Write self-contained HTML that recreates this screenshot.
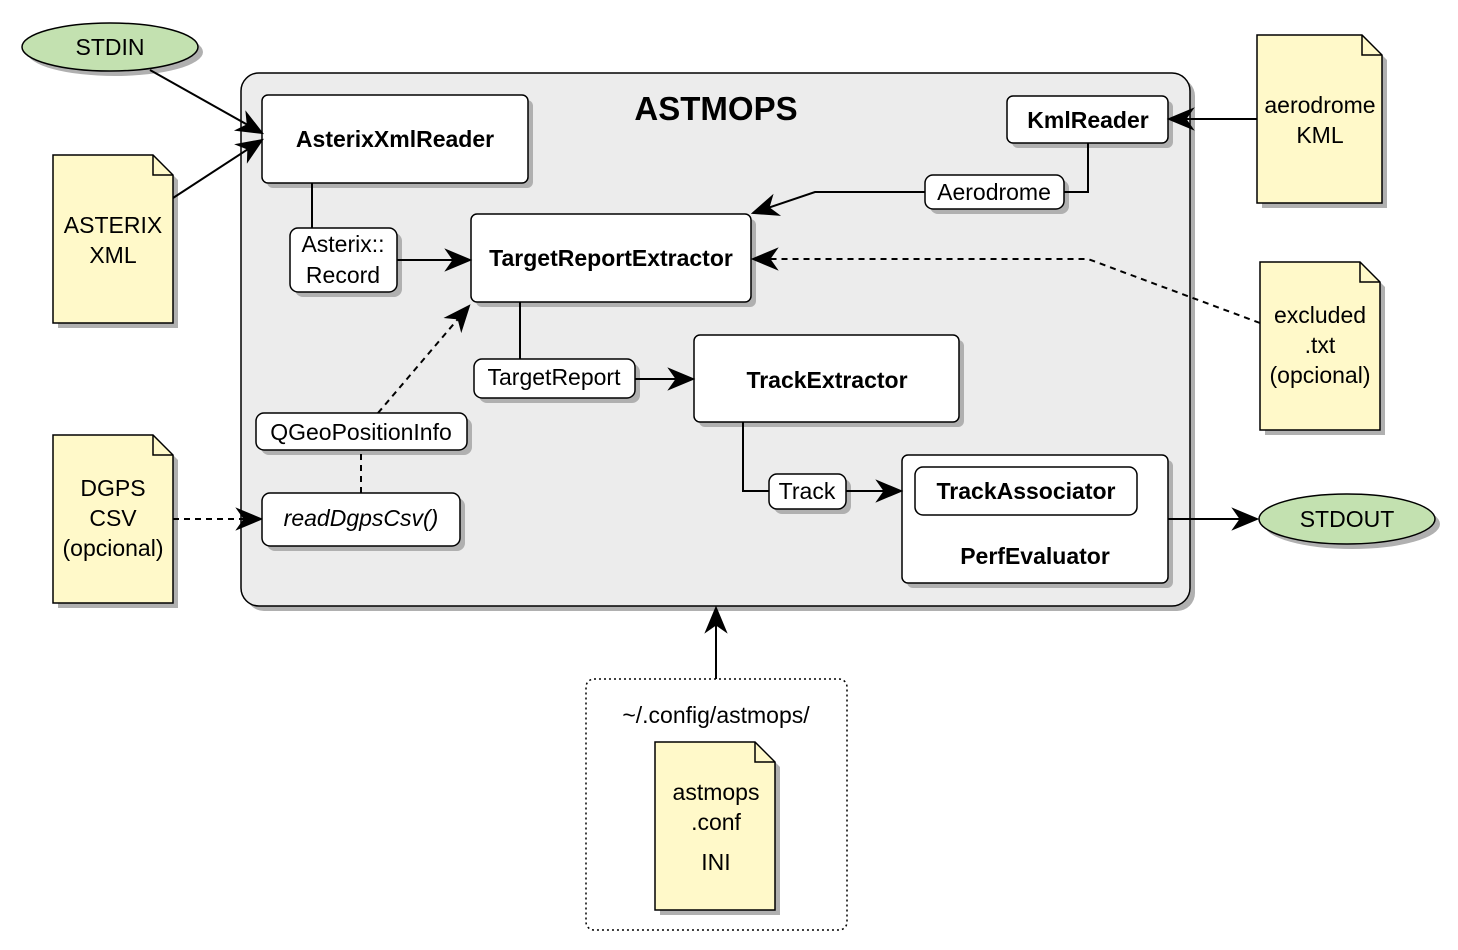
<!DOCTYPE html>
<html><head><meta charset="utf-8"><style>html,body{margin:0;padding:0;background:#fff}svg{display:block}text{font-family:"Liberation Sans",Arial,sans-serif;fill:#000}</style></head><body>
<svg width="1458" height="950" viewBox="0 0 1458 950" xmlns="http://www.w3.org/2000/svg" font-family="Liberation Sans, Arial, sans-serif">
<defs>
<marker id="a" viewBox="0 0 12 12" refX="11" refY="6" markerWidth="28" markerHeight="28" markerUnits="userSpaceOnUse" orient="auto"><path d="M0,1 L12,6 L0,11 L3.5,6 z" fill="#000"/></marker>
</defs>
<g fill="#b0b0b0" stroke="none">
<rect x="246" y="78" width="949" height="533" rx="18"/>
<ellipse cx="115" cy="52" rx="88" ry="24"/>
<ellipse cx="1352" cy="524" rx="88" ry="25"/>
<path d="M58,160 h100 l20,20 v148 h-120z"/>
<path d="M58,440 h100 l20,20 v148 h-120z"/>
<path d="M1262,40 h105 l20,20 v148 h-125z"/>
<path d="M1265,267 h100 l20,20 v148 h-120z"/>
<path d="M660,747 h100 l20,20 v148 h-120z"/>
</g>
<rect x="241" y="73" width="949" height="533" rx="18" fill="#ececec" stroke="#000" stroke-width="1.5"/>
<g fill="#b0b0b0">
<rect x="267" y="100" width="266" height="88" rx="6"/>
<rect x="1012" y="101" width="161" height="47" rx="6"/>
<rect x="476" y="219" width="280" height="88" rx="6"/>
<rect x="699" y="340" width="265" height="87" rx="6"/>
<rect x="907" y="460" width="266" height="128" rx="6"/>
<rect x="930" y="180" width="139" height="34" rx="8"/>
<rect x="295" y="233" width="107" height="64" rx="8"/>
<rect x="479" y="364" width="161" height="39" rx="8"/>
<rect x="261" y="418" width="211" height="37" rx="8"/>
<rect x="267" y="498" width="198" height="53" rx="8"/>
<rect x="774" y="479" width="77" height="35" rx="8"/>
<rect x="920" y="472" width="222" height="48" rx="8"/>
</g>
<g fill="#fff" stroke="#000" stroke-width="1.5">
<rect x="262" y="95" width="266" height="88" rx="6"/>
<rect x="1007" y="96" width="161" height="47" rx="6"/>
<rect x="471" y="214" width="280" height="88" rx="6"/>
<rect x="694" y="335" width="265" height="87" rx="6"/>
<rect x="902" y="455" width="266" height="128" rx="6"/>
<rect x="915" y="467" width="222" height="48" rx="8"/>
</g>
<g fill="none" stroke="#000" stroke-width="2">
<path d="M150,70 L262,133" marker-end="url(#a)"/>
<path d="M173,198 L262,140" marker-end="url(#a)"/>
<path d="M312,183 V228"/>
<path d="M397,260 H470" marker-end="url(#a)"/>
<path d="M1257,119 H1169" marker-end="url(#a)"/>
<path d="M1088,143 V192 H1064"/>
<path d="M925,192 H815 L753,213" marker-end="url(#a)"/>
<path d="M1260,323 L1088,259 H753" stroke-dasharray="6,5" marker-end="url(#a)"/>
<path d="M520,302 V359"/>
<path d="M635,379 H693" marker-end="url(#a)"/>
<path d="M361,493 V450" stroke-dasharray="6,5"/>
<path d="M378,413 L469,306" stroke-dasharray="6,5" marker-end="url(#a)"/>
<path d="M173,519 H261" stroke-dasharray="6,5" marker-end="url(#a)"/>
<path d="M743,422 V491 H769"/>
<path d="M846,491 H901" marker-end="url(#a)"/>
<path d="M1168,519 H1257" marker-end="url(#a)"/>
<path d="M716,679 V608" marker-end="url(#a)"/>
</g>
<g fill="#fff" stroke="#000" stroke-width="1.5">
<rect x="925" y="175" width="139" height="34" rx="8"/>
<rect x="290" y="228" width="107" height="64" rx="8"/>
<rect x="474" y="359" width="161" height="39" rx="8"/>
<rect x="256" y="413" width="211" height="37" rx="8"/>
<rect x="262" y="493" width="198" height="53" rx="8"/>
<rect x="769" y="474" width="77" height="35" rx="8"/>
</g>
<ellipse cx="110" cy="47" rx="88" ry="24" fill="#c3e1b0" stroke="#000" stroke-width="1.5"/>
<ellipse cx="1347" cy="519" rx="88" ry="25" fill="#c3e1b0" stroke="#000" stroke-width="1.5"/>
<g fill="#fff9c9" stroke="#000" stroke-width="1.5">
<path d="M53,155 h100 l20,20 v148 h-120z"/><path d="M153,155 v20 h20" fill="none"/>
<path d="M53,435 h100 l20,20 v148 h-120z"/><path d="M153,435 v20 h20" fill="none"/>
<path d="M1257,35 h105 l20,20 v148 h-125z"/><path d="M1362,35 v20 h20" fill="none"/>
<path d="M1260,262 h100 l20,20 v148 h-120z"/><path d="M1360,262 v20 h20" fill="none"/>
</g>
<rect x="586" y="679" width="261" height="251" rx="8" fill="#fff" stroke="#000" stroke-width="1.5" stroke-dasharray="2,3"/>
<path d="M660,747 h100 l20,20 v148 h-120z" fill="#b0b0b0"/>
<path d="M655,742 h100 l20,20 v148 h-120z" fill="#fff9c9" stroke="#000" stroke-width="1.5"/>
<path d="M755,742 v20 h20" fill="none" stroke="#000" stroke-width="1.5"/>
<g font-size="23" text-anchor="middle">
<text x="716" y="120" font-size="33" font-weight="bold">ASTMOPS</text>
<text x="110" y="55">STDIN</text>
<text x="1347" y="527">STDOUT</text>
<text x="395" y="147" font-weight="bold">AsterixXmlReader</text>
<text x="1088" y="128" font-weight="bold">KmlReader</text>
<text x="611" y="266" font-weight="bold">TargetReportExtractor</text>
<text x="827" y="388" font-weight="bold">TrackExtractor</text>
<text x="1026" y="499" font-weight="bold">TrackAssociator</text>
<text x="1035" y="564" font-weight="bold">PerfEvaluator</text>
<text x="994" y="200">Aerodrome</text>
<text x="343" y="252">Asterix::</text>
<text x="343" y="283">Record</text>
<text x="554" y="385">TargetReport</text>
<text x="361" y="440">QGeoPositionInfo</text>
<text x="361" y="526" font-style="italic">readDgpsCsv()</text>
<text x="807" y="499">Track</text>
<text x="113" y="233">ASTERIX</text>
<text x="113" y="263">XML</text>
<text x="113" y="496">DGPS</text>
<text x="113" y="526">CSV</text>
<text x="113" y="556">(opcional)</text>
<text x="1320" y="113">aerodrome</text>
<text x="1320" y="143">KML</text>
<text x="1320" y="323">excluded</text>
<text x="1320" y="353">.txt</text>
<text x="1320" y="383">(opcional)</text>
<text x="716" y="723">~/.config/astmops/</text>
<text x="716" y="800">astmops</text>
<text x="716" y="830">.conf</text>
<text x="716" y="870">INI</text>
</g>
</svg>
</body></html>
